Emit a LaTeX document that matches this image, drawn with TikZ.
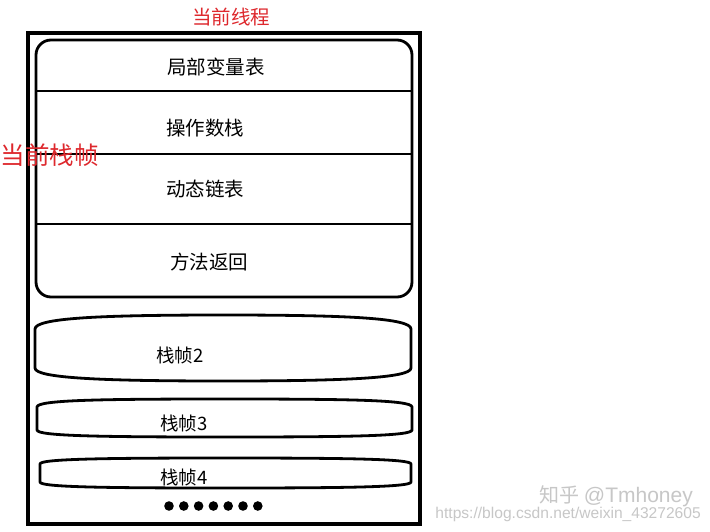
\documentclass[tikz,border=0pt]{standalone}
\usepackage{fontspec}
\setmainfont{Noto Sans CJK SC}
\newfontfamily\latinwm{Liberation Sans}
\begin{document}
\begin{tikzpicture}[x=1pt,y=-1pt,
  lbl/.style={font=\fontsize{19.5}{21}\selectfont, inner sep=0pt, anchor=center},
  redlbl/.style={font=\fontsize{19.5}{21}\selectfont, text=redc, inner sep=0pt},
  frameline/.style={line width=2.8pt, line join=round},
  wm/.style={text=black!22, inner sep=0pt}]
\definecolor{redc}{RGB}{222,40,45}
\useasboundingbox (0,0) rectangle (710,531);
\fill[white] (0,0) rectangle (710,531);
% outer thread box
\draw[line width=4.5pt] (28,33) rectangle (420,524);
% current frame
\draw[frameline, rounded corners=15pt] (36,40) rectangle (412,297);
\draw[frameline] (36,91) -- (412,91);
\draw[frameline] (36,154) -- (412,154);
\draw[frameline] (36,224) -- (412,224);
\node[lbl] (lv) at (216,67) {局部变量表};
\node[lbl] (os) at (205,128) {操作数栈};
\node[lbl] (dl) at (205,189) {动态链表};
\node[lbl] (mr) at (209,262) {方法返回};
% labels
\node[redlbl] (thr) at (231,17) {当前线程};
\node[redlbl, font=\fontsize{24.5}{26}\selectfont, anchor=west] (cur) at (0.5,155) {当前栈帧};
% frame 2
\draw[frameline] (35,329) .. controls (35,318) and (100,315) .. (223,315) .. controls (346,315) and (411,318) .. (411,329) -- (411,368) .. controls (411,378) and (346,381) .. (223,381) .. controls (100,381) and (35,378) .. (35,368) -- cycle;
\node[lbl, font=\fontsize{18.5}{20}\selectfont] (f2) at (180,355) {栈帧2};
% frame 3
\draw[frameline] (37,407) .. controls (37,400) and (100,399) .. (225,399) .. controls (350,399) and (412,400) .. (412,407) -- (412,430) .. controls (412,436) and (350,437) .. (225,437) .. controls (100,437) and (37,436) .. (37,430) -- cycle;
\node[lbl, font=\fontsize{18.5}{20}\selectfont] (f3) at (184,423) {栈帧3};
% frame 4
\draw[frameline] (40,464) .. controls (40,459) and (100,458) .. (225,458) .. controls (350,458) and (411,459) .. (411,464) -- (411,482) .. controls (411,487) and (350,488) .. (225,488) .. controls (100,488) and (40,487) .. (40,482) -- cycle;
\node[lbl, font=\fontsize{18.5}{20}\selectfont] (f4) at (184,477) {栈帧4};
% dots
\foreach \i in {0,...,6} {
  \fill (169+\i*14.8,506) circle (4.8pt);
}
% watermark
\node[wm, font=\fontsize{20}{22}\selectfont, anchor=east] (wm1) at (693,496) {知乎 \latinwm\fontsize{21}{22}\selectfont @Tmhoney};
\node[wm, font=\latinwm\fontsize{15.6}{17}\selectfont, anchor=east] (wm2) at (701,514) {https://blog.csdn.net/weixin\_43272605};
\end{tikzpicture}
\end{document}
